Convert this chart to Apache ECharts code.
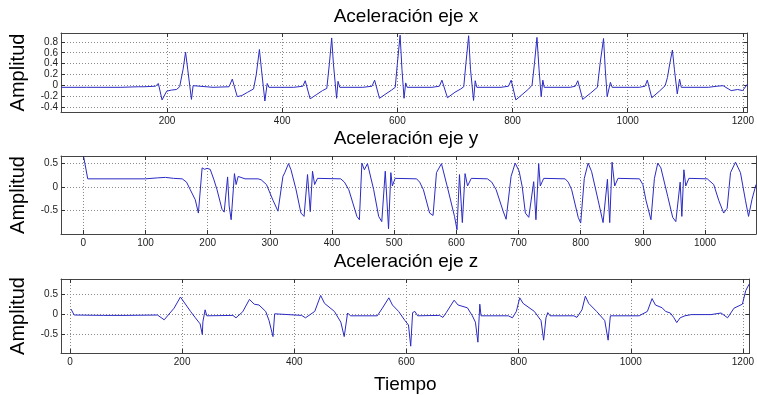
<!DOCTYPE html>
<html><head><meta charset="utf-8">
<script src="https://cdn.jsdelivr.net/npm/echarts@6/dist/echarts.min.js"></script>
<style>html,body{margin:0;padding:0;background:#fff}#c{width:757px;height:395px}</style>
</head><body><div id="c"></div>
<script>
// ---- data ----
const titles = ['Aceleración eje x', 'Aceleración eje y', 'Aceleración eje z'];
const yName = 'Amplitud';
const xName = 'Tiempo';

const xTicks1 = [200, 400, 600, 800, 1000, 1200];
const yTicks1 = [-0.4, -0.2, 0, 0.2, 0.4, 0.6, 0.8];
const xTicks2 = [0, 100, 200, 300, 400, 500, 600, 700, 800, 900, 1000];
const yTicks2 = [-0.5, 0, 0.5];
const xTicks3 = [0, 200, 400, 600, 800, 1000, 1200];
const yTicks3 = [-0.5, 0, 0.5];

const accX = [
[16,-0.03],[60,-0.03],[120,-0.03],[150,-0.02],[160,-0.02],[180,-0.01],[185,0.04],[191.5,-0.26],[199.5,-0.1],[208,-0.08],[216.5,-0.07],[222,-0.02],[228,0.3],[232.3,0.61],[236,0.3],[242.5,-0.25],[245.4,0.0],[248,-0.03],[280,-0.03],[307.8,-0.02],[313.4,0.12],[322,-0.2],[330,-0.18],[340,-0.12],[350.3,-0.06],[355,0.2],[360.5,0.66],[364,0.3],[370,-0.28],[374,0.04],[377,-0.03],[420,-0.03],[436,-0.01],[440,0.09],[448.6,-0.24],[460,-0.16],[470,-0.09],[477.5,-0.05],[482,0.4],[486,0.87],[489,0.4],[494.5,-0.23],[497,0.08],[500,-0.03],[540,-0.03],[556,-0.01],[560.5,0.1],[569,-0.23],[580,-0.15],[590,-0.08],[596.3,-0.03],[600,0.4],[604.8,0.92],[608,0.3],[611.6,-0.23],[614.5,0.05],[617,-0.03],[660,-0.03],[673,-0.01],[677.4,0.1],[687,-0.22],[700,-0.12],[710,-0.06],[715.3,-0.02],[719,0.4],[723.8,0.91],[727,0.3],[732.3,-0.27],[735.2,0.09],[738,-0.03],[780,-0.03],[793,-0.01],[797.6,0.1],[805.8,-0.26],[818,-0.15],[828,-0.06],[833.9,0.01],[838,0.4],[842.4,0.88],[846,0.3],[849.7,-0.2],[852.6,0.1],[855,-0.03],[900,-0.03],[909,-0.01],[913.3,0.09],[921.8,-0.25],[935,-0.14],[947.3,-0.03],[952,0.4],[958,0.86],[961,0.3],[964.3,-0.2],[969.9,0.06],[973,-0.03],[1020,-0.03],[1030,-0.01],[1034,0.1],[1041.8,-0.22],[1055,-0.1],[1065,0.0],[1069,0.15],[1073,0.4],[1077.6,0.65],[1081,0.3],[1086,-0.15],[1090,0.12],[1093,-0.03],[1140,-0.03],[1155,-0.01],[1165.5,0.0],[1179.6,-0.09],[1191,-0.07],[1199.5,-0.09],[1208,0.03]
];

const accY = [
[0.5,0.63],[7,0.17],[100,0.17],[119,0.19],[132,0.2],[145,0.18],[159,0.17],[166,0.1],[172,-0.06],[180,-0.27],[185,-0.55],[191,0.4],[195,0.37],[199,0.39],[204,0.37],[210,0.15],[215,-0.06],[223,-0.47],[226.5,-0.53],[232,0.21],[234.5,-0.4],[237.7,-0.69],[243,0.28],[245.7,0.05],[249,0.22],[260,0.17],[281,0.17],[286,0.15],[294.5,0.05],[305,-0.28],[313,-0.51],[321,0.22],[324,0.3],[330,0.49],[334,0.36],[342,-0.05],[350,-0.55],[355,-0.62],[360.6,0.26],[365,-0.52],[368.6,0.33],[372,0.05],[376.6,0.18],[414,0.17],[420,0.1],[427,-0.06],[440,-0.62],[444,-0.69],[448,0.5],[452,0.36],[457,0.49],[467,-0.06],[475,-0.62],[480,-0.73],[485.6,0.33],[490.9,-0.88],[494.6,0.3],[497,0.02],[501.5,0.18],[536,0.17],[541,0.1],[547,-0.06],[557,-0.55],[562.5,-0.6],[568,0.3],[576,0.49],[586.6,-0.06],[597,-0.62],[601,-0.9],[605,0.26],[609.6,-0.75],[614,0.28],[618,0.02],[624,0.18],[650,0.17],[657,0.1],[664,-0.06],[675,-0.5],[680,-0.68],[688,0.22],[694.6,0.5],[701,0.33],[706,0.0],[711,-0.55],[716.5,-0.64],[724.4,0.11],[728,-0.69],[732.4,0.49],[735,0.02],[740.5,0.18],[775,0.17],[780,0.1],[785.5,-0.06],[796,-0.64],[800,-0.76],[805.8,0.18],[812,0.5],[817.6,0.32],[828,-0.28],[836,-0.75],[843,0.16],[846.7,-0.75],[850.5,0.52],[854.7,0.02],[860,0.18],[894.6,0.17],[900,0.05],[905,-0.28],[913,-0.69],[918.6,0.18],[924,0.5],[929,0.4],[940,-0.2],[948,-0.64],[953,-0.73],[960,0.1],[962.7,-0.62],[966,0.36],[969,0.02],[974,0.18],[1003.6,0.17],[1014,0.05],[1022,-0.28],[1030,-0.55],[1035.6,-0.45],[1041,0.3],[1049,0.52],[1057,0.3],[1065,-0.28],[1070,-0.62],[1075.6,-0.26],[1082,0.05]
];

const accZ = [
[1.75,0.12],[7.5,-0.03],[60,-0.04],[100,-0.04],[156,-0.03],[168,-0.15],[185.6,0.14],[197,0.42],[215,0.06],[223.6,-0.1],[232,-0.25],[236,-0.52],[237,-0.2],[241,0.1],[244,-0.05],[290.6,-0.04],[296,-0.1],[308,0.05],[320,0.36],[328.6,0.24],[337,0.22],[349,0.06],[355,-0.17],[362,-0.57],[365,0.0],[368,-0.05],[413,-0.04],[420,-0.1],[436.5,0.06],[447,0.46],[454,0.26],[471.5,0.06],[483,-0.21],[489,-0.57],[495,0.02],[500,-0.05],[548,-0.05],[557,0.14],[568.6,0.4],[575,0.22],[586,0.06],[597.4,-0.17],[603.6,-0.28],[607.6,-0.81],[611,0.03],[615,0.06],[620,-0.05],[659,-0.04],[665,-0.09],[671,0.03],[685,0.34],[692,0.22],[708.7,0.15],[717.5,-0.05],[723,-0.21],[727.4,-0.71],[730.8,0.24],[733,-0.05],[781.5,-0.05],[789,-0.1],[796,0.06],[802,0.4],[808,0.26],[828,0.06],[840,-0.17],[844.6,-0.66],[848.8,-0.1],[852,0.03],[856,-0.05],[898.5,-0.05],[904,-0.09],[913,0.1],[919,0.44],[925,0.26],[939,0.06],[953.6,-0.17],[959.6,-0.66],[963.6,-0.05],[1015,-0.05],[1029.6,0.06],[1038,0.38],[1044,0.22],[1056,0.15],[1062,0.06],[1070.5,0.02],[1076.5,-0.09],[1082,-0.22],[1088,-0.1],[1096.6,-0.05],[1108,-0.02],[1143,-0.02],[1161,0.02],[1172.6,-0.1],[1184,0.14],[1199,0.24],[1205,0.58],[1211,0.74]
];

// ---- layout ----
const FONT = 'Liberation Sans, Arial, sans-serif';
const panels = [
  {top: 33, height: 79, xmin: 16, xmax: 1208, ymin: -0.48, ymax: 0.96, xt: xTicks1, yt: yTicks1, data: accX, titleY: 7},
  {top: 156, height: 78, xmin: -36, xmax: 1082, ymin: -0.99, ymax: 0.65, xt: xTicks2, yt: yTicks2, data: accY, titleY: 129},
  {top: 279, height: 78, xmin: -16, xmax: 1212, ymin: -0.98, ymax: 0.87, xt: xTicks3, yt: yTicks3, data: accZ, titleY: 252}
];

const grid = [], xAxis = [], yAxis = [], series = [], graphic = [];
const tickStyle = {show: true, inside: true, length: 4, lineStyle: {color: '#333', width: 1}};
const labelStyle = {color: '#222', fontSize: 10, fontFamily: FONT};
const frameLine = {show: true, onZero: false, lineStyle: {color: '#444', width: 1}};
const dotted = {show: true, lineStyle: {color: '#8a8a8a', type: [1, 2], width: 1}};

panels.forEach((p, i) => {
  grid.push({left: 55, right: 1, top: p.top, height: p.height, show: false, containLabel: false});
  xAxis.push({
    type: 'value', gridIndex: i, min: p.xmin, max: p.xmax, position: 'bottom',
    axisLine: frameLine,
    axisTick: Object.assign({}, tickStyle, {customValues: p.xt}),
    axisLabel: Object.assign({}, labelStyle, {customValues: p.xt, margin: 4, formatter: v => String(v)}),
    splitLine: dotted,
    name: i === 2 ? xName : '', nameLocation: 'middle', nameGap: 22,
    nameTextStyle: {fontSize: 19, color: '#000', fontFamily: FONT}
  });
  xAxis.push({
    type: 'value', gridIndex: i, min: p.xmin, max: p.xmax, position: 'top',
    axisLine: frameLine,
    axisTick: Object.assign({}, tickStyle, {customValues: p.xt}),
    axisLabel: {show: false}, splitLine: {show: false}
  });
  yAxis.push({
    type: 'value', gridIndex: i, min: p.ymin, max: p.ymax, position: 'left',
    axisLine: frameLine,
    axisTick: Object.assign({}, tickStyle, {customValues: p.yt}),
    axisLabel: Object.assign({}, labelStyle, {customValues: p.yt, margin: 3, formatter: v => String(Math.round(v * 10) / 10)}),
    splitLine: dotted,
    name: yName, nameLocation: 'middle', nameGap: 33, nameRotate: 90,
    nameTextStyle: {fontSize: 20, color: '#000', fontFamily: FONT}
  });
  yAxis.push({
    type: 'value', gridIndex: i, min: p.ymin, max: p.ymax, position: 'right',
    axisLine: frameLine,
    axisTick: Object.assign({}, tickStyle, {customValues: p.yt}),
    axisLabel: {show: false}, splitLine: {show: false}
  });
  series.push({
    type: 'line', xAxisIndex: i * 2, yAxisIndex: i * 2, data: p.data,
    showSymbol: false, symbol: 'none', smooth: false, animation: false,
    lineStyle: {color: '#2a2ac4', width: 1}, clip: true
  });
  graphic.push({
    type: 'text', x: 406, y: p.titleY,
    style: {text: titles[i], fill: '#000', font: '19px ' + FONT, align: 'center', verticalAlign: 'top'}
  });
});

const chart = echarts.init(document.getElementById('c'), null, {renderer: 'canvas'});
chart.setOption({animation: false, grid, xAxis, yAxis, series, graphic});
</script>
</body></html>
